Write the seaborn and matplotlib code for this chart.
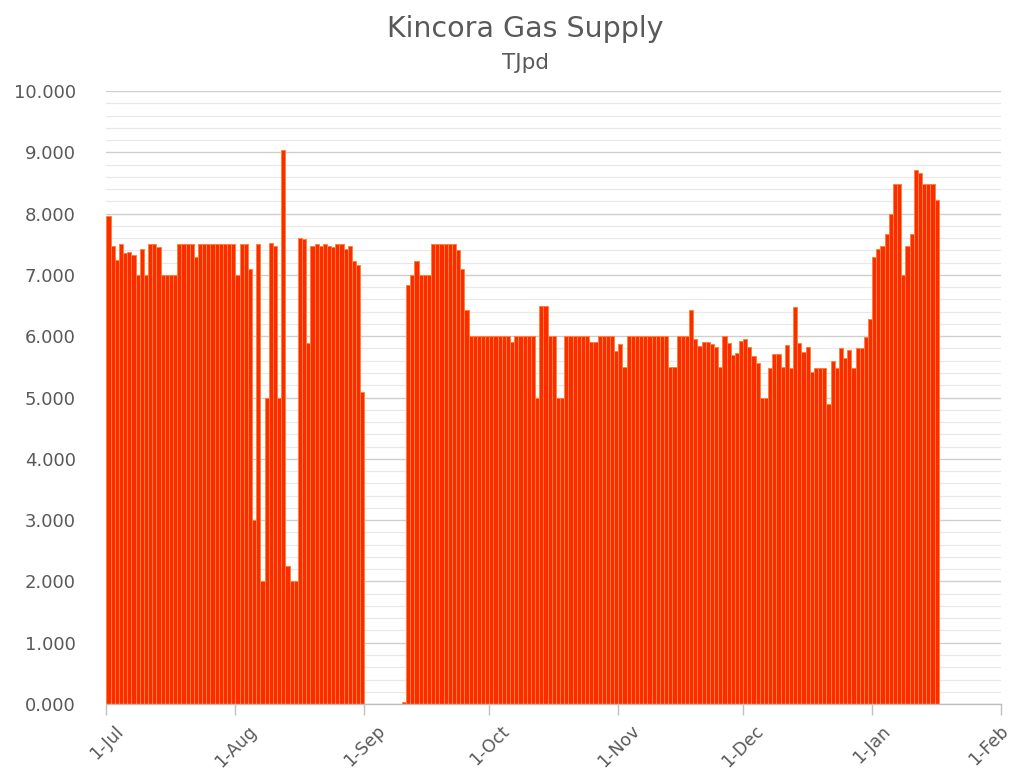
import numpy as np
import pandas as pd
import matplotlib
matplotlib.use("Agg")
import matplotlib.pyplot as plt
import matplotlib.transforms as mtransforms
import seaborn as sns
from matplotlib.ticker import MultipleLocator, FuncFormatter

# ---- data (TJ per day), one value per day from 1-Jul ----
start = "2018-07-01"
jul = [7.96, 7.47, 7.25, 7.5, 7.35, 7.37, 7.32, 7.0, 7.42, 7.0, 7.5, 7.5, 7.45,
       7.0, 7.0, 7.0, 7.0, 7.5, 7.5, 7.5, 7.5, 7.3, 7.5, 7.5, 7.5, 7.5, 7.5, 7.5,
       7.5, 7.5, 7.5]
aug = [7.0, 7.5, 7.5, 7.1, 3.0, 7.5, 2.0, 5.0, 7.52, 7.47, 5.0, 9.03, 2.25, 2.0,
       2.0, 7.61, 7.58, 5.89, 7.47, 7.5, 7.47, 7.5, 7.47, 7.45, 7.5, 7.5, 7.42,
       7.47, 7.22, 7.16, 5.09]
sep = [np.nan] * 9 + [0.03, 6.84, 7.0, 7.23, 7.0, 7.0, 7.0, 7.5, 7.5, 7.5, 7.5,
       7.5, 7.5, 7.4, 7.1, 6.42, 6.0, 6.0, 6.0, 6.0, 6.0]
oct_ = [6.0, 6.0, 6.0, 6.0, 6.0, 5.9, 6.0, 6.0, 6.0, 6.0, 6.0, 5.0, 6.5, 6.5,
        6.0, 6.0, 5.0, 5.0, 6.0, 6.0, 6.0, 6.0, 6.0, 6.0, 5.9, 5.9, 6.0, 6.0,
        6.0, 6.0, 5.76]
nov = [5.87, 5.5, 6.0, 6.0, 6.0, 6.0, 6.0, 6.0, 6.0, 6.0, 6.0, 6.0, 5.5, 5.5,
       6.0, 6.0, 6.0, 6.42, 5.95, 5.84, 5.9, 5.9, 5.87, 5.83, 5.5, 6.0, 5.89,
       5.69, 5.72, 5.93]
dec = [5.95, 5.83, 5.67, 5.57, 5.0, 5.0, 5.48, 5.71, 5.71, 5.5, 5.86, 5.48,
       6.48, 5.89, 5.75, 5.83, 5.42, 5.48, 5.48, 5.48, 4.89, 5.6, 5.48, 5.8,
       5.64, 5.77, 5.48, 5.8, 5.8, 5.99, 6.28]
jan = [7.29, 7.42, 7.47, 7.67, 7.99, 8.48, 8.48, 7.0, 7.47, 7.67, 8.71, 8.67,
       8.48, 8.48, 8.48, 8.22]

month_labels = ["1-Jul", "1-Aug", "1-Sep", "1-Oct", "1-Nov", "1-Dec", "1-Jan", "1-Feb"]
title = "Kincora Gas Supply"
subtitle = "TJpd"

values = jul + aug + sep + oct_ + nov + dec + jan
dates = pd.date_range(start, periods=len(values), freq="D")
df = pd.DataFrame({"date": dates, "tjpd": values}).dropna()
t0 = pd.Timestamp(start)
df["day"] = (df["date"] - t0).dt.days + 0.5

month_starts = pd.date_range(start, periods=len(month_labels), freq="MS")
month_pos = (month_starts - t0).days.values

# ---- style ----
sns.set_theme(style="white")
plt.rcParams["font.family"] = ["DejaVu Sans"]
text_col = "#595959"

fig = plt.figure(figsize=(10.13, 7.74), dpi=100)
ax = fig.add_axes([0.1051, 0.0904, 0.8832, 0.792])

sns.barplot(data=df, x="day", y="tjpd", native_scale=True, width=1,
            color="#FF2A00", edgecolor="#F5863A", linewidth=0.7,
            saturation=1, errorbar=None, ax=ax, zorder=3)

ax.set_xlim(month_pos[0], month_pos[-1])
ax.set_ylim(0, 10)
ax.set_xlabel("")
ax.set_ylabel("")

ax.yaxis.set_major_locator(MultipleLocator(1))
ax.yaxis.set_minor_locator(MultipleLocator(0.2))
ax.yaxis.set_major_formatter(FuncFormatter(lambda v, p: f"{v:.3f}"))
ax.grid(axis="y", which="major", color="#CFCFCF", linewidth=1.0, zorder=0)
ax.grid(axis="y", which="minor", color="#E8E8E8", linewidth=0.9, zorder=0)
ax.grid(axis="x", visible=False)
ax.set_axisbelow(True)

ax.set_xticks(month_pos)
ax.set_xticklabels(month_labels, rotation=45, ha="center", va="top")
ax.tick_params(axis="x", which="major", length=8, width=1, color="#BFBFBF",
               direction="out", pad=5, labelsize=12.5, labelcolor=text_col, bottom=True)
ax.tick_params(axis="y", which="both", length=0, pad=22, labelsize=13,
               labelcolor=text_col)

# keep the last date label inside the figure
last = ax.get_xticklabels()[-1]
last.set_transform(last.get_transform() +
                   mtransforms.ScaledTranslation(-12 / 100, 0, fig.dpi_scale_trans))

for s in ["top", "right", "left"]:
    ax.spines[s].set_visible(False)
ax.spines["bottom"].set_color("#BFBFBF")
ax.spines["bottom"].set_linewidth(1)
ax.spines["bottom"].set_zorder(4)

fig.text(0.519, 0.963, title, ha="center", va="center", fontsize=20.5, color=text_col)
fig.text(0.519, 0.918, subtitle, ha="center", va="center", fontsize=15.5, color=text_col)

fig.savefig("out.png", dpi=100)
